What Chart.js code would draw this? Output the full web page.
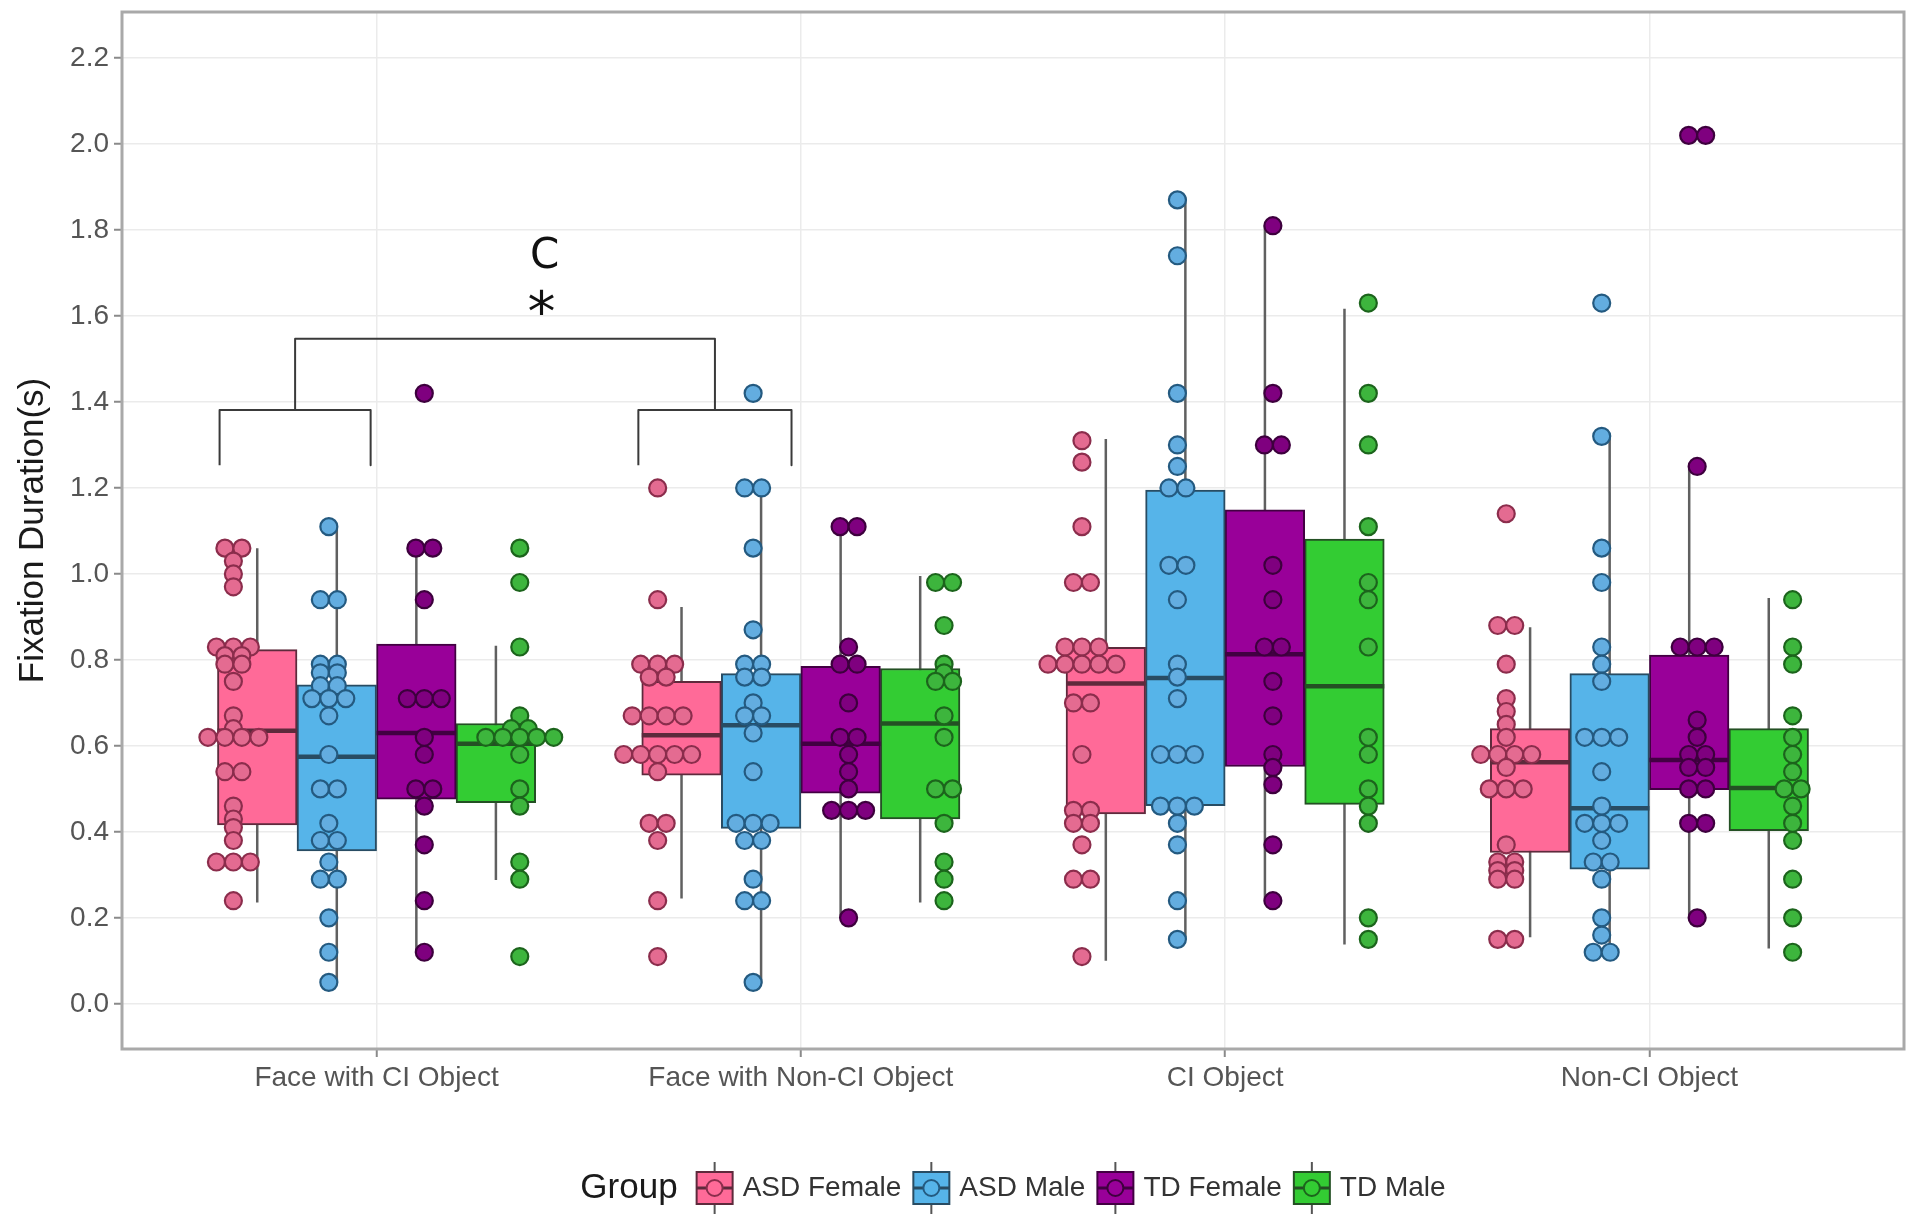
<!DOCTYPE html>
<html>
<head>
<meta charset="utf-8">
<title>Fixation Duration by Group</title>
<script src="https://cdn.jsdelivr.net/npm/chart.js@4.4.1/dist/chart.umd.min.js"></script>
<style>
  html, body { margin: 0; padding: 0; background: #fff; }
  #wrap { width: 1920px; height: 1228px; }
</style>
</head>
<body>
<div id="wrap"><canvas id="fixChart" width="1920" height="1228"></canvas></div>
<script>
const categories = ["Face with CI Object", "Face with Non-CI Object", "CI Object", "Non-CI Object"];
const groups = ["ASD Female", "ASD Male", "TD Female", "TD Male"];
const yTicks = [0, 0.2, 0.4, 0.6, 0.8, 1.0, 1.2, 1.4, 1.6, 1.8, 2.0, 2.2];
const yTickLabels = ["0.0", "0.2", "0.4", "0.6", "0.8", "1.0", "1.2", "1.4", "1.6", "1.8", "2.0", "2.2"];

// box stats, one row per group, one column per category
const whiskerLow = [
  [0.236, 0.245, 0.10, 0.155],
  [0.047, 0.047, 0.151, 0.116],
  [0.12, 0.20, 0.242, 0.197],
  [0.288, 0.236, 0.138, 0.129]
];
const boxQ1 = [
  [0.416, 0.532, 0.442, 0.352],
  [0.356, 0.408, 0.461, 0.313],
  [0.476, 0.49, 0.552, 0.498],
  [0.468, 0.43, 0.464, 0.403]
];
const boxMedian = [
  [0.635, 0.625, 0.745, 0.562],
  [0.575, 0.648, 0.758, 0.455],
  [0.63, 0.605, 0.813, 0.567],
  [0.605, 0.652, 0.739, 0.502]
];
const boxQ3 = [
  [0.824, 0.75, 0.829, 0.64],
  [0.742, 0.768, 1.195, 0.768],
  [0.837, 0.785, 1.149, 0.811],
  [0.652, 0.78, 1.081, 0.64]
];
const whiskerHigh = [
  [1.06, 0.923, 1.314, 0.876],
  [1.107, 1.20, 1.876, 1.32],
  [1.06, 1.107, 1.81, 1.253],
  [0.833, 0.995, 1.617, 0.944]
];

// individual fixation durations (dot plot), one list per category
const dotsAsdFemale = [
  [1.06, 1.06, 1.03, 1.00, 0.97, 0.83, 0.83, 0.83, 0.81, 0.81, 0.79, 0.79, 0.75, 0.67, 0.64, 0.62, 0.62, 0.62, 0.62, 0.54, 0.54, 0.46, 0.43, 0.41, 0.38, 0.33, 0.33, 0.33, 0.24],
  [1.20, 0.94, 0.79, 0.79, 0.79, 0.76, 0.76, 0.67, 0.67, 0.67, 0.67, 0.58, 0.58, 0.58, 0.58, 0.58, 0.54, 0.42, 0.42, 0.38, 0.24, 0.11],
  [1.31, 1.26, 1.11, 0.98, 0.98, 0.83, 0.83, 0.83, 0.79, 0.79, 0.79, 0.79, 0.79, 0.70, 0.70, 0.58, 0.45, 0.45, 0.42, 0.42, 0.37, 0.29, 0.29, 0.11],
  [1.14, 0.88, 0.88, 0.79, 0.71, 0.68, 0.65, 0.62, 0.58, 0.58, 0.58, 0.58, 0.55, 0.50, 0.50, 0.50, 0.37, 0.33, 0.33, 0.31, 0.31, 0.29, 0.29, 0.15, 0.15]
];
const dotsAsdMale = [
  [1.11, 0.94, 0.94, 0.79, 0.79, 0.77, 0.77, 0.74, 0.74, 0.71, 0.71, 0.71, 0.67, 0.58, 0.50, 0.50, 0.42, 0.38, 0.38, 0.33, 0.29, 0.29, 0.20, 0.12, 0.05],
  [1.42, 1.20, 1.20, 1.06, 0.87, 0.79, 0.79, 0.76, 0.76, 0.70, 0.67, 0.67, 0.63, 0.54, 0.42, 0.42, 0.42, 0.38, 0.38, 0.29, 0.24, 0.24, 0.05],
  [1.87, 1.74, 1.42, 1.30, 1.25, 1.20, 1.20, 1.02, 1.02, 0.94, 0.79, 0.76, 0.71, 0.58, 0.58, 0.58, 0.46, 0.46, 0.46, 0.42, 0.37, 0.24, 0.15],
  [1.63, 1.32, 1.06, 0.98, 0.83, 0.79, 0.75, 0.62, 0.62, 0.62, 0.54, 0.46, 0.42, 0.42, 0.42, 0.38, 0.33, 0.33, 0.29, 0.20, 0.16, 0.12, 0.12]
];
const dotsTdFemale = [
  [1.42, 1.06, 1.06, 0.94, 0.71, 0.71, 0.71, 0.62, 0.58, 0.50, 0.50, 0.46, 0.37, 0.24, 0.12],
  [1.11, 1.11, 0.83, 0.79, 0.79, 0.70, 0.62, 0.62, 0.58, 0.54, 0.50, 0.45, 0.45, 0.45, 0.20],
  [1.81, 1.42, 1.30, 1.30, 1.02, 0.94, 0.83, 0.83, 0.75, 0.67, 0.58, 0.55, 0.51, 0.37, 0.24],
  [2.02, 2.02, 1.25, 0.83, 0.83, 0.83, 0.66, 0.62, 0.58, 0.58, 0.55, 0.55, 0.50, 0.50, 0.42, 0.42, 0.20]
];
const dotsTdMale = [
  [1.06, 0.98, 0.83, 0.67, 0.64, 0.64, 0.62, 0.62, 0.62, 0.62, 0.62, 0.58, 0.50, 0.46, 0.33, 0.29, 0.11],
  [0.98, 0.98, 0.88, 0.79, 0.77, 0.75, 0.75, 0.67, 0.62, 0.50, 0.50, 0.42, 0.33, 0.29, 0.24],
  [1.63, 1.42, 1.30, 1.11, 0.98, 0.94, 0.83, 0.62, 0.58, 0.50, 0.46, 0.42, 0.20, 0.15],
  [0.94, 0.83, 0.79, 0.67, 0.62, 0.58, 0.54, 0.50, 0.50, 0.46, 0.42, 0.38, 0.29, 0.20, 0.12]
];
const dotsByGroup = [dotsAsdFemale, dotsAsdMale, dotsTdFemale, dotsTdMale];

// significance brackets (x in category units, y in seconds)
const bracketLeft = [0.63, 1.617];
const bracketRight = [0.986, 1.978];
const bracketFoot = 1.253;
const bracketBar = 1.381;
const bracketTop = 1.547;
const annotText = ["C", "*"];
const annotX = [1.396, 1.389];
const annotY = [1.712, 1.565];

// styling
const fontFamily = '"Liberation Sans", Arial, sans-serif';
const boxFill = ["#ff6a98", "#56b4e9", "#990099", "#33cc33"];
const boxEdge = ["#5e2a3c", "#284c63", "#420042", "#245024"];
const dotFill = ["#e46b91", "#63ade0", "#7f007f", "#3db53d"];
const dotEdge = ["#8b2d4c", "#245a80", "#3d003d", "#1c641c"];
const boxWidth = 0.1875;
const boxOffsets = [-1.5, -0.5, 0.5, 1.5].map(k => k * boxWidth);
const dotOffsets = [-1.5, -0.5, 0.5, 1.5].map(k => k * 0.225);
const dotStep = 0.04;

function boxX(gi, ci) { return ci + 1 + boxOffsets[gi]; }

function dotPoints(values, center) {
  const counts = new Map();
  values.forEach(v => counts.set(v, (counts.get(v) || 0) + 1));
  const pts = [];
  counts.forEach((n, v) => {
    for (let k = 0; k < n; k++) pts.push({ x: center + (k - (n - 1) / 2) * dotStep, y: v });
  });
  return pts;
}

const whiskerSets = groups.map((g, gi) => ({
  type: "line",
  label: g + " whiskers",
  data: categories.flatMap((c, ci) => [
    { x: boxX(gi, ci), y: whiskerLow[gi][ci] },
    { x: boxX(gi, ci), y: whiskerHigh[gi][ci] },
    { x: boxX(gi, ci), y: null }
  ]),
  borderColor: "#606060",
  borderWidth: 2.5,
  pointRadius: 0,
  order: 5
}));

const boxSets = groups.map((g, gi) => ({
  type: "bar",
  label: g,
  data: categories.map((c, ci) => ({ x: boxX(gi, ci), y: [boxQ1[gi][ci], boxQ3[gi][ci]] })),
  backgroundColor: boxFill[gi],
  borderColor: boxEdge[gi],
  borderWidth: 2,
  borderSkipped: false,
  grouped: false,
  barPercentage: 1,
  categoryPercentage: 1,
  order: 4
}));

const medianSets = groups.map((g, gi) => ({
  type: "line",
  label: g + " median",
  data: categories.flatMap((c, ci) => [
    { x: boxX(gi, ci) - boxWidth / 2, y: boxMedian[gi][ci] },
    { x: boxX(gi, ci) + boxWidth / 2, y: boxMedian[gi][ci] },
    { x: boxX(gi, ci), y: null }
  ]),
  borderColor: boxEdge[gi],
  borderWidth: 4.5,
  pointRadius: 0,
  order: 3
}));

const dotSets = groups.map((g, gi) => ({
  type: "scatter",
  label: g + " points",
  data: categories.flatMap((c, ci) => dotPoints(dotsByGroup[gi][ci], ci + 1 + dotOffsets[gi])),
  pointRadius: 8.5,
  pointBorderWidth: 2.2,
  backgroundColor: dotFill[gi],
  borderColor: dotEdge[gi],
  order: 2
}));

const bracketPoints = [];
bracketLeft.forEach((l, i) => {
  const r = bracketRight[i];
  bracketPoints.push({ x: l, y: bracketFoot }, { x: l, y: bracketBar }, { x: r, y: bracketBar }, { x: r, y: bracketFoot }, { x: r, y: null });
});
const stems = bracketLeft.map((l, i) => (l + bracketRight[i]) / 2);
bracketPoints.push({ x: stems[0], y: bracketBar }, { x: stems[0], y: bracketTop }, { x: stems[1], y: bracketTop }, { x: stems[1], y: bracketBar });

const bracketSet = {
  type: "line",
  label: "brackets",
  data: bracketPoints,
  borderColor: "#3a3a3a",
  borderWidth: 2,
  pointRadius: 0,
  borderJoinStyle: "round",
  order: 1
};

const decorPlugin = {
  id: "decor",
  afterDatasetsDraw(chart) {
    const { ctx, chartArea: a, scales: { x, y } } = chart;
    ctx.save();
    ctx.strokeStyle = "#a9a9a9";
    ctx.lineWidth = 3;
    ctx.strokeRect(a.left, a.top, a.right - a.left, a.bottom - a.top);
    ctx.fillStyle = "#111";
    ctx.textAlign = "center";
    ctx.textBaseline = "alphabetic";
    const sizes = [42, 56];
    annotText.forEach((t, i) => {
      ctx.font = sizes[i] + 'px "DejaVu Sans", sans-serif';
      ctx.fillText(t, x.getPixelForValue(annotX[i]), y.getPixelForValue(annotY[i]));
    });
    ctx.restore();
  },
  afterDraw(chart) {
    const { ctx, chartArea: a } = chart;
    const cy = 1188, keyW = 36, keyH = 32;
    ctx.save();
    ctx.textBaseline = "middle";
    ctx.textAlign = "left";
    ctx.font = "35px " + fontFamily;
    const titleW = ctx.measureText("Group").width;
    ctx.font = "28px " + fontFamily;
    const textW = groups.map(g => ctx.measureText(g).width);
    const total = titleW + 19 + textW.reduce((s, w) => s + keyW + 10 + w, 0) + 12 * 3;
    let cx = (a.left + a.right) / 2 - total / 2;
    ctx.font = "35px " + fontFamily;
    ctx.fillStyle = "#1a1a1a";
    ctx.fillText("Group", cx, cy);
    cx += titleW + 19;
    groups.forEach((g, gi) => {
      const mx = cx + keyW / 2;
      ctx.strokeStyle = "#555";
      ctx.lineWidth = 2;
      ctx.beginPath();
      ctx.moveTo(mx, cy - 26);
      ctx.lineTo(mx, cy + 26);
      ctx.stroke();
      ctx.fillStyle = boxFill[gi];
      ctx.fillRect(cx, cy - keyH / 2, keyW, keyH);
      ctx.strokeStyle = boxEdge[gi];
      ctx.strokeRect(cx, cy - keyH / 2, keyW, keyH);
      ctx.lineWidth = 3;
      ctx.beginPath();
      ctx.moveTo(cx, cy);
      ctx.lineTo(cx + keyW, cy);
      ctx.stroke();
      ctx.beginPath();
      ctx.arc(mx, cy, 8, 0, Math.PI * 2);
      ctx.fillStyle = boxFill[gi];
      ctx.fill();
      ctx.lineWidth = 2;
      ctx.strokeStyle = dotEdge[gi];
      ctx.stroke();
      ctx.font = "28px " + fontFamily;
      ctx.fillStyle = "#333";
      ctx.fillText(g, cx + keyW + 10, cy);
      cx += keyW + 10 + textW[gi] + 12;
    });
    ctx.restore();
  }
};

const ctx = document.getElementById("fixChart").getContext("2d");
new Chart(ctx, {
  type: "bar",
  data: { datasets: [...whiskerSets, ...boxSets, ...medianSets, ...dotSets, bracketSet] },
  options: {
    responsive: false,
    animation: false,
    devicePixelRatio: 1,
    events: [],
    layout: { padding: { top: 12, right: 16, bottom: 109, left: 0 } },
    plugins: { legend: { display: false }, tooltip: { enabled: false } },
    scales: {
      x: {
        type: "linear",
        min: 0.4,
        max: 4.6,
        offset: false,
        afterBuildTicks: s => { s.ticks = categories.map((c, i) => ({ value: i + 1 })); },
        afterFit: s => { s.height = 70; s.paddingLeft = 0; s.paddingRight = 0; },
        ticks: {
          autoSkip: false,
          maxRotation: 0,
          padding: 4,
          color: "#555",
          font: { family: fontFamily, size: 28 },
          callback: (v, i) => categories[i]
        },
        grid: { color: "#ebebeb", lineWidth: 1.5, offset: false, tickLength: 8, tickColor: "#8a8a8a", tickWidth: 2 },
        border: { display: false }
      },
      y: {
        type: "linear",
        min: -0.105,
        max: 2.307,
        afterBuildTicks: s => { s.ticks = yTicks.map(v => ({ value: v })); },
        afterFit: s => { s.width = 122; s.paddingTop = 0; s.paddingBottom = 0; },
        ticks: {
          padding: 5,
          color: "#555",
          font: { family: fontFamily, size: 28 },
          callback: (v, i) => yTickLabels[i]
        },
        grid: { color: "#ebebeb", lineWidth: 1.5, tickLength: 8, tickColor: "#8a8a8a", tickWidth: 2 },
        border: { display: false },
        title: {
          display: true,
          text: "Fixation Duration(s)",
          color: "#1a1a1a",
          font: { family: fontFamily, size: 35 },
          padding: { top: 12, bottom: 0 }
        }
      }
    }
  },
  plugins: [decorPlugin]
});
</script>
</body>
</html>
